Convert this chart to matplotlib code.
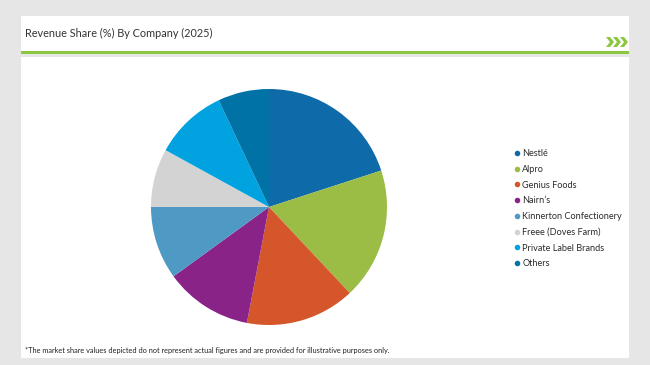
import matplotlib
matplotlib.use('Agg')
import matplotlib.pyplot as plt
from matplotlib.patches import Rectangle, Polygon
from matplotlib.lines import Line2D

plt.rcParams['font.family'] = ['Lato', 'DejaVu Sans']

# Data
companies = ['Nestlé', 'Alpro', 'Genius Foods', 'Nairn’s', 'Kinnerton Confectionery',
             'Freee (Doves Farm)', 'Private Label Brands', 'Others']
shares = [20, 18, 15, 12, 10, 8, 10, 7]
colors = ['#0e6aa8', '#9bbd46', '#d4562a', '#8a2387', '#4f9ac4', '#d3d3d3', '#00a3e0', '#0072a6']

title = 'Revenue Share (%) By Company (2025)'
footnote = '*The market share values depicted do not represent actual figures and are provided for illustrative purposes only.'

W, H = 650, 365
fig = plt.figure(figsize=(W / 100, H / 100), dpi=100)
fig.patch.set_facecolor('#e6e6e6')


def px_rect(x0, y0, x1, y1, color):
    # pixel coords measured from top-left
    fig.add_artist(Rectangle((x0 / W, 1 - y1 / H), (x1 - x0) / W, (y1 - y0) / H,
                             transform=fig.transFigure, facecolor=color, edgecolor='none',
                             zorder=-10))


# Header card and main card
px_rect(21, 16, 629, 51, 'white')
px_rect(21, 51, 629, 53.5, '#8dc63f')
px_rect(21, 57, 629, 358, 'white')

fig.text(25 / W, 1 - 33 / H, title, fontsize=7.8, color='#333333', va='center', ha='left')

# Chevrons in header
for i in range(3):
    x = 606 + i * 7
    pts = [(x, 37), (x + 4, 37), (x + 8, 42), (x + 4, 47), (x, 47), (x + 4, 42)]
    fig.add_artist(Polygon([(px / W, 1 - py / H) for px, py in pts], closed=True,
                           transform=fig.transFigure, facecolor='#8dc63f', edgecolor='none'))

# Pie
cx, cy, r = 269, 207, 118
ax = fig.add_axes([(cx - r) / W, 1 - (cy + r) / H, 2 * r / W, 2 * r / H])
ax.pie(shares, colors=colors, startangle=90, counterclock=False,
       wedgeprops=dict(linewidth=0))
ax.set_xlim(-1, 1)
ax.set_ylim(-1, 1)
ax.set_aspect('equal')
ax.axis('off')

# Legend
handles = [Line2D([0], [0], marker='o', color='none', markerfacecolor=c, markeredgecolor='none',
                  markersize=4) for c in colors]
fig.legend(handles, companies, loc='upper left', bbox_to_anchor=(514 / W, 1 - 149 / H),
           frameon=False, fontsize=6.6, labelcolor='#2b2b2b', handlelength=0.6,
           handletextpad=0.3, labelspacing=0.74, borderpad=0, borderaxespad=0)

fig.text(25 / W, 1 - 350 / H, footnote, fontsize=5.35, color='#222222', va='center', ha='left')

fig.savefig('out.png', dpi=100, facecolor=fig.get_facecolor())
